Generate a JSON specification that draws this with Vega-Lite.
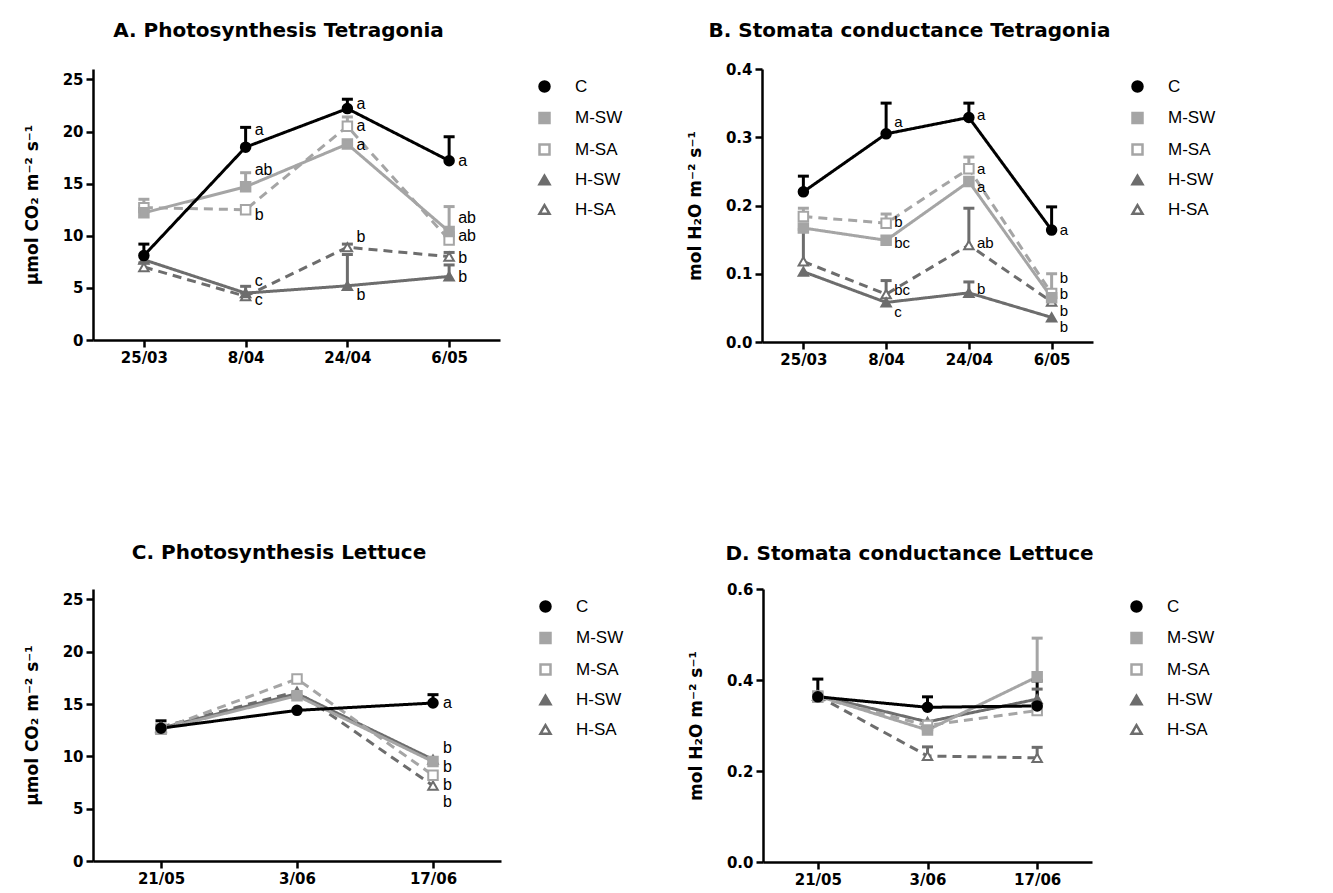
{
  "$schema": "https://vega.github.io/schema/vega-lite/v6.json",
  "padding": {"left": 23, "top": 21, "right": 5, "bottom": 5},
  "background": "white",
  "config": {
    "font": "Liberation Sans",
    "view": {"stroke": null},
    "axis": {"domainColor": "black", "domainWidth": 2.5, "tickColor": "black", "tickWidth": 2.5, "tickSize": 7, "labelFont": "DejaVu Sans", "labelFontWeight": "bold", "labelFontSize": 15, "labelColor": "black", "titleFont": "DejaVu Sans", "titleFontSize": 17, "titleFontWeight": "bold", "titleColor": "black", "grid": false},
    "axisX": {"title": null, "labelAngle": 0, "labelPadding": 3},
    "axisY": {"labelPadding": 3, "titlePadding": 21},
    "title": {"fontSize": 20, "fontWeight": "bold", "color": "black", "anchor": "middle", "offset": 27, "font": "DejaVu Sans", "dx": -18},
    "legend": {"labelFontSize": 17, "labelFont": "Liberation Sans", "labelColor": "black", "rowPadding": 10.5, "symbolStrokeWidth": 2.5, "symbolSize": 100, "labelOffset": 22, "offset": 27, "padding": 9},
    "text": {"font": "Liberation Sans", "fontSize": 16, "color": "black"}
  },
  "datasets": {
    "tA": [
      {"date": "25/03", "series": "H-SA", "mean": 7.0, "upper": 7.4},
      {"date": "8/04", "series": "H-SA", "mean": 4.2, "upper": 4.5},
      {"date": "24/04", "series": "H-SA", "mean": 8.9, "upper": 9.2},
      {"date": "6/05", "series": "H-SA", "mean": 8.0, "upper": 8.4},
      {"date": "25/03", "series": "H-SW", "mean": 7.7, "upper": null},
      {"date": "8/04", "series": "H-SW", "mean": 4.5, "upper": 5.15},
      {"date": "24/04", "series": "H-SW", "mean": 5.2, "upper": 8.2},
      {"date": "6/05", "series": "H-SW", "mean": 6.1, "upper": 7.2},
      {"date": "25/03", "series": "M-SA", "mean": 12.7, "upper": 13.5},
      {"date": "8/04", "series": "M-SA", "mean": 12.5, "upper": 12.8},
      {"date": "24/04", "series": "M-SA", "mean": 20.5, "upper": 21.4},
      {"date": "6/05", "series": "M-SA", "mean": 9.6, "upper": 10.3},
      {"date": "25/03", "series": "M-SW", "mean": 12.2, "upper": null},
      {"date": "8/04", "series": "M-SW", "mean": 14.7, "upper": 16.05},
      {"date": "24/04", "series": "M-SW", "mean": 18.8, "upper": null},
      {"date": "6/05", "series": "M-SW", "mean": 10.4, "upper": 12.8},
      {"date": "25/03", "series": "C", "mean": 8.1, "upper": 9.2},
      {"date": "8/04", "series": "C", "mean": 18.5, "upper": 20.4},
      {"date": "24/04", "series": "C", "mean": 22.2, "upper": 23.1},
      {"date": "6/05", "series": "C", "mean": 17.2, "upper": 19.5}
    ],
    "lA": [
      {"date": "8/04", "ly": 20.1, "lab": "a"},
      {"date": "24/04", "ly": 22.6, "lab": "a"},
      {"date": "24/04", "ly": 20.5, "lab": "a"},
      {"date": "24/04", "ly": 18.75, "lab": "a"},
      {"date": "8/04", "ly": 16.3, "lab": "ab"},
      {"date": "8/04", "ly": 12.0, "lab": "b"},
      {"date": "6/05", "ly": 17.2, "lab": "a"},
      {"date": "6/05", "ly": 11.7, "lab": "ab"},
      {"date": "6/05", "ly": 10.0, "lab": "ab"},
      {"date": "6/05", "ly": 7.85, "lab": "b"},
      {"date": "6/05", "ly": 6.0, "lab": "b"},
      {"date": "24/04", "ly": 9.85, "lab": "b"},
      {"date": "24/04", "ly": 4.3, "lab": "b"},
      {"date": "8/04", "ly": 5.7, "lab": "c"},
      {"date": "8/04", "ly": 3.85, "lab": "c"}
    ],
    "tB": [
      {"date": "25/03", "series": "H-SA", "mean": 0.118, "upper": 0.165},
      {"date": "8/04", "series": "H-SA", "mean": 0.070, "upper": 0.090},
      {"date": "24/04", "series": "H-SA", "mean": 0.142, "upper": 0.196},
      {"date": "6/05", "series": "H-SA", "mean": 0.059, "upper": 0.065},
      {"date": "25/03", "series": "H-SW", "mean": 0.103, "upper": null},
      {"date": "8/04", "series": "H-SW", "mean": 0.058, "upper": null},
      {"date": "24/04", "series": "H-SW", "mean": 0.072, "upper": 0.088},
      {"date": "6/05", "series": "H-SW", "mean": 0.036, "upper": null},
      {"date": "25/03", "series": "M-SA", "mean": 0.184, "upper": 0.196},
      {"date": "8/04", "series": "M-SA", "mean": 0.174, "upper": 0.1875},
      {"date": "24/04", "series": "M-SA", "mean": 0.254, "upper": 0.271},
      {"date": "6/05", "series": "M-SA", "mean": 0.071, "upper": 0.100},
      {"date": "25/03", "series": "M-SW", "mean": 0.167, "upper": null},
      {"date": "8/04", "series": "M-SW", "mean": 0.149, "upper": null},
      {"date": "24/04", "series": "M-SW", "mean": 0.235, "upper": null},
      {"date": "6/05", "series": "M-SW", "mean": 0.065, "upper": null},
      {"date": "25/03", "series": "C", "mean": 0.220, "upper": 0.243},
      {"date": "8/04", "series": "C", "mean": 0.305, "upper": 0.350},
      {"date": "24/04", "series": "C", "mean": 0.329, "upper": 0.350},
      {"date": "6/05", "series": "C", "mean": 0.164, "upper": 0.198}
    ],
    "lB": [
      {"date": "8/04", "ly": 0.323, "lab": "a"},
      {"date": "8/04", "ly": 0.176, "lab": "b"},
      {"date": "8/04", "ly": 0.1455, "lab": "bc"},
      {"date": "8/04", "ly": 0.076, "lab": "bc"},
      {"date": "8/04", "ly": 0.044, "lab": "c"},
      {"date": "24/04", "ly": 0.333, "lab": "a"},
      {"date": "24/04", "ly": 0.253, "lab": "a"},
      {"date": "24/04", "ly": 0.2276, "lab": "a"},
      {"date": "24/04", "ly": 0.1446, "lab": "ab"},
      {"date": "24/04", "ly": 0.077, "lab": "b"},
      {"date": "6/05", "ly": 0.164, "lab": "a"},
      {"date": "6/05", "ly": 0.0933, "lab": "b"},
      {"date": "6/05", "ly": 0.070, "lab": "b"},
      {"date": "6/05", "ly": 0.046, "lab": "b"},
      {"date": "6/05", "ly": 0.0225, "lab": "b"}
    ],
    "tC": [
      {"date": "21/05", "series": "H-SA", "mean": 12.8, "upper": null},
      {"date": "3/06", "series": "H-SA", "mean": 16.2, "upper": null},
      {"date": "17/06", "series": "H-SA", "mean": 7.2, "upper": null},
      {"date": "21/05", "series": "H-SW", "mean": 12.7, "upper": null},
      {"date": "3/06", "series": "H-SW", "mean": 16.0, "upper": null},
      {"date": "17/06", "series": "H-SW", "mean": 9.7, "upper": null},
      {"date": "21/05", "series": "M-SA", "mean": 12.6, "upper": null},
      {"date": "3/06", "series": "M-SA", "mean": 17.4, "upper": null},
      {"date": "17/06", "series": "M-SA", "mean": 8.2, "upper": null},
      {"date": "21/05", "series": "M-SW", "mean": 12.6, "upper": null},
      {"date": "3/06", "series": "M-SW", "mean": 15.8, "upper": null},
      {"date": "17/06", "series": "M-SW", "mean": 9.5, "upper": null},
      {"date": "21/05", "series": "C", "mean": 12.7, "upper": 13.4},
      {"date": "3/06", "series": "C", "mean": 14.4, "upper": null},
      {"date": "17/06", "series": "C", "mean": 15.1, "upper": 15.9}
    ],
    "lC": [
      {"date": "17/06", "ly": 15.1, "lab": "a"},
      {"date": "17/06", "ly": 10.8, "lab": "b"},
      {"date": "17/06", "ly": 9.0, "lab": "b"},
      {"date": "17/06", "ly": 7.3, "lab": "b"},
      {"date": "17/06", "ly": 5.6, "lab": "b"}
    ],
    "tD": [
      {"date": "21/05", "series": "H-SA", "mean": 0.365, "upper": null},
      {"date": "3/06", "series": "H-SA", "mean": 0.233, "upper": 0.253},
      {"date": "17/06", "series": "H-SA", "mean": 0.229, "upper": 0.252},
      {"date": "21/05", "series": "H-SW", "mean": 0.366, "upper": null},
      {"date": "3/06", "series": "H-SW", "mean": 0.308, "upper": null},
      {"date": "17/06", "series": "H-SW", "mean": 0.358, "upper": 0.38},
      {"date": "21/05", "series": "M-SA", "mean": 0.362, "upper": null},
      {"date": "3/06", "series": "M-SA", "mean": 0.300, "upper": null},
      {"date": "17/06", "series": "M-SA", "mean": 0.333, "upper": null},
      {"date": "21/05", "series": "M-SW", "mean": 0.365, "upper": null},
      {"date": "3/06", "series": "M-SW", "mean": 0.290, "upper": null},
      {"date": "17/06", "series": "M-SW", "mean": 0.407, "upper": 0.492},
      {"date": "21/05", "series": "C", "mean": 0.363, "upper": 0.402},
      {"date": "3/06", "series": "C", "mean": 0.340, "upper": 0.363},
      {"date": "17/06", "series": "C", "mean": 0.343, "upper": 0.398}
    ]
  },
  "vconcat": [
    {
      "hconcat": [
        {
          "title": {"text": "A. Photosynthesis Tetragonia", "offset": 28},
          "width": 407, "height": 271,
          "layer": [
            {"data": {"name": "tA"}, "mark": {"type": "line", "strokeWidth": 3},
             "encoding": {
               "x": {"field": "date", "type": "ordinal", "scale": {"type": "point", "padding": 0.5, "domain": ["25/03", "8/04", "24/04", "6/05"]}},
               "y": {"field": "mean", "type": "quantitative", "scale": {"domain": [0, 25]}, "axis": {"title": "μmol CO₂ m⁻² s⁻¹", "values": [0, 5, 10, 15, 20, 25]}},
               "color": {"field": "series", "type": "nominal", "scale": {"domain": ["H-SA", "H-SW", "M-SA", "M-SW", "C"], "range": ["#6d6d6d", "#6d6d6d", "#a5a5a5", "#a5a5a5", "#000000"]}, "legend": null},
               "strokeDash": {"field": "series", "type": "nominal", "scale": {"domain": ["H-SA", "H-SW", "M-SA", "M-SW", "C"], "range": [[9, 6], [1, 0], [9, 6], [1, 0], [1, 0]]}, "legend": null}
             }},
            {"data": {"name": "tA"}, "transform": [{"filter": "isValid(datum.upper)"}], "mark": {"type": "rule", "strokeWidth": 3},
             "encoding": {
               "x": {"field": "date", "type": "ordinal"},
               "y": {"field": "mean", "type": "quantitative"},
               "y2": {"field": "upper"},
               "color": {"field": "series", "type": "nominal", "legend": null}
             }},
            {"data": {"name": "tA"}, "transform": [{"filter": "isValid(datum.upper)"}], "mark": {"type": "tick", "thickness": 3, "size": 11, "opacity": 1},
             "encoding": {
               "x": {"field": "date", "type": "ordinal"},
               "y": {"field": "upper", "type": "quantitative"},
               "color": {"field": "series", "type": "nominal", "legend": null}
             }},
            {"data": {"name": "tA"}, "mark": {"type": "point", "filled": true, "opacity": 1, "size": 90, "strokeWidth": 2},
             "encoding": {
               "x": {"field": "date", "type": "ordinal"},
               "y": {"field": "mean", "type": "quantitative"},
               "shape": {"field": "series", "type": "nominal", "scale": {"domain": ["C", "M-SW", "M-SA", "H-SW", "H-SA"], "range": ["circle", "square", "square", "triangle-up", "triangle-up"]}, "legend": {"title": null}},
               "stroke": {"field": "series", "type": "nominal", "scale": {"domain": ["C", "M-SW", "M-SA", "H-SW", "H-SA"], "range": ["#000000", "#a5a5a5", "#a5a5a5", "#6d6d6d", "#6d6d6d"]}, "legend": {"title": null}},
               "fill": {"field": "series", "type": "nominal", "scale": {"domain": ["C", "M-SW", "M-SA", "H-SW", "H-SA"], "range": ["#000000", "#a5a5a5", "#ffffff", "#6d6d6d", "#ffffff"]}, "legend": {"title": null}}
             }},
            {"data": {"name": "lA"}, "mark": {"type": "text", "align": "left", "baseline": "middle", "dx": 9},
             "encoding": {
               "x": {"field": "date", "type": "ordinal"},
               "y": {"field": "ly", "type": "quantitative"},
               "text": {"field": "lab"}
             }}
          ]
        },
        {
          "title": {"text": "B. Stomata conductance Tetragonia", "offset": 21},
          "width": 331, "height": 273,
          "layer": [
            {"data": {"name": "tB"}, "mark": {"type": "line", "strokeWidth": 3},
             "encoding": {
               "x": {"field": "date", "type": "ordinal", "scale": {"type": "point", "padding": 0.5, "domain": ["25/03", "8/04", "24/04", "6/05"]}},
               "y": {"field": "mean", "type": "quantitative", "scale": {"domain": [0, 0.4]}, "axis": {"title": "mol H₂O m⁻² s⁻¹", "values": [0, 0.1, 0.2, 0.3, 0.4], "format": ".1f"}},
               "color": {"field": "series", "type": "nominal", "scale": {"domain": ["H-SA", "H-SW", "M-SA", "M-SW", "C"], "range": ["#6d6d6d", "#6d6d6d", "#a5a5a5", "#a5a5a5", "#000000"]}, "legend": null},
               "strokeDash": {"field": "series", "type": "nominal", "scale": {"domain": ["H-SA", "H-SW", "M-SA", "M-SW", "C"], "range": [[9, 6], [1, 0], [9, 6], [1, 0], [1, 0]]}, "legend": null}
             }},
            {"data": {"name": "tB"}, "transform": [{"filter": "isValid(datum.upper)"}], "mark": {"type": "rule", "strokeWidth": 3},
             "encoding": {
               "x": {"field": "date", "type": "ordinal"},
               "y": {"field": "mean", "type": "quantitative"},
               "y2": {"field": "upper"},
               "color": {"field": "series", "type": "nominal", "legend": null}
             }},
            {"data": {"name": "tB"}, "transform": [{"filter": "isValid(datum.upper)"}], "mark": {"type": "tick", "thickness": 3, "size": 11, "opacity": 1},
             "encoding": {
               "x": {"field": "date", "type": "ordinal"},
               "y": {"field": "upper", "type": "quantitative"},
               "color": {"field": "series", "type": "nominal", "legend": null}
             }},
            {"data": {"name": "tB"}, "mark": {"type": "point", "filled": true, "opacity": 1, "size": 90, "strokeWidth": 2},
             "encoding": {
               "x": {"field": "date", "type": "ordinal"},
               "y": {"field": "mean", "type": "quantitative"},
               "shape": {"field": "series", "type": "nominal", "scale": {"domain": ["C", "M-SW", "M-SA", "H-SW", "H-SA"], "range": ["circle", "square", "square", "triangle-up", "triangle-up"]}, "legend": {"title": null}},
               "stroke": {"field": "series", "type": "nominal", "scale": {"domain": ["C", "M-SW", "M-SA", "H-SW", "H-SA"], "range": ["#000000", "#a5a5a5", "#a5a5a5", "#6d6d6d", "#6d6d6d"]}, "legend": {"title": null}},
               "fill": {"field": "series", "type": "nominal", "scale": {"domain": ["C", "M-SW", "M-SA", "H-SW", "H-SA"], "range": ["#000000", "#a5a5a5", "#ffffff", "#6d6d6d", "#ffffff"]}, "legend": {"title": null}}
             }},
            {"data": {"name": "lB"}, "mark": {"type": "text", "align": "left", "baseline": "middle", "dx": 8, "fontSize": 15},
             "encoding": {
               "x": {"field": "date", "type": "ordinal"},
               "y": {"field": "ly", "type": "quantitative"},
               "text": {"field": "lab"}
             }}
          ]
        }
      ],
      "spacing": 54,
      "resolve": {"scale": {"color": "independent", "stroke": "independent", "fill": "independent", "shape": "independent", "strokeDash": "independent"}, "legend": {"stroke": "independent", "fill": "independent", "shape": "independent"}}
    },
    {
      "hconcat": [
        {
          "title": {"text": "C. Photosynthesis Lettuce", "offset": 26},
          "width": 408, "height": 272,
          "layer": [
            {"data": {"name": "tC"}, "mark": {"type": "line", "strokeWidth": 3},
             "encoding": {
               "x": {"field": "date", "type": "ordinal", "scale": {"type": "point", "padding": 0.5, "domain": ["21/05", "3/06", "17/06"]}},
               "y": {"field": "mean", "type": "quantitative", "scale": {"domain": [0, 25]}, "axis": {"title": "μmol CO₂ m⁻² s⁻¹", "values": [0, 5, 10, 15, 20, 25]}},
               "color": {"field": "series", "type": "nominal", "scale": {"domain": ["H-SA", "H-SW", "M-SA", "M-SW", "C"], "range": ["#6d6d6d", "#6d6d6d", "#a5a5a5", "#a5a5a5", "#000000"]}, "legend": null},
               "strokeDash": {"field": "series", "type": "nominal", "scale": {"domain": ["H-SA", "H-SW", "M-SA", "M-SW", "C"], "range": [[9, 6], [1, 0], [9, 6], [1, 0], [1, 0]]}, "legend": null}
             }},
            {"data": {"name": "tC"}, "transform": [{"filter": "isValid(datum.upper)"}], "mark": {"type": "rule", "strokeWidth": 3},
             "encoding": {
               "x": {"field": "date", "type": "ordinal"},
               "y": {"field": "mean", "type": "quantitative"},
               "y2": {"field": "upper"},
               "color": {"field": "series", "type": "nominal", "legend": null}
             }},
            {"data": {"name": "tC"}, "transform": [{"filter": "isValid(datum.upper)"}], "mark": {"type": "tick", "thickness": 3, "size": 11, "opacity": 1},
             "encoding": {
               "x": {"field": "date", "type": "ordinal"},
               "y": {"field": "upper", "type": "quantitative"},
               "color": {"field": "series", "type": "nominal", "legend": null}
             }},
            {"data": {"name": "tC"}, "mark": {"type": "point", "filled": true, "opacity": 1, "size": 90, "strokeWidth": 2},
             "encoding": {
               "x": {"field": "date", "type": "ordinal"},
               "y": {"field": "mean", "type": "quantitative"},
               "shape": {"field": "series", "type": "nominal", "scale": {"domain": ["C", "M-SW", "M-SA", "H-SW", "H-SA"], "range": ["circle", "square", "square", "triangle-up", "triangle-up"]}, "legend": {"title": null}},
               "stroke": {"field": "series", "type": "nominal", "scale": {"domain": ["C", "M-SW", "M-SA", "H-SW", "H-SA"], "range": ["#000000", "#a5a5a5", "#a5a5a5", "#6d6d6d", "#6d6d6d"]}, "legend": {"title": null}},
               "fill": {"field": "series", "type": "nominal", "scale": {"domain": ["C", "M-SW", "M-SA", "H-SW", "H-SA"], "range": ["#000000", "#a5a5a5", "#ffffff", "#6d6d6d", "#ffffff"]}, "legend": {"title": null}}
             }},
            {"data": {"name": "lC"}, "mark": {"type": "text", "align": "left", "baseline": "middle", "dx": 10},
             "encoding": {
               "x": {"field": "date", "type": "ordinal"},
               "y": {"field": "ly", "type": "quantitative"},
               "text": {"field": "lab"}
             }}
          ]
        },
        {
          "title": {"text": "D. Stomata conductance Lettuce", "offset": 18},
          "width": 329, "height": 273,
          "layer": [
            {"data": {"name": "tD"}, "mark": {"type": "line", "strokeWidth": 3},
             "encoding": {
               "x": {"field": "date", "type": "ordinal", "scale": {"type": "point", "padding": 0.5, "domain": ["21/05", "3/06", "17/06"]}},
               "y": {"field": "mean", "type": "quantitative", "scale": {"domain": [0, 0.6]}, "axis": {"title": "mol H₂O m⁻² s⁻¹", "values": [0, 0.2, 0.4, 0.6], "format": ".1f"}},
               "color": {"field": "series", "type": "nominal", "scale": {"domain": ["H-SA", "H-SW", "M-SA", "M-SW", "C"], "range": ["#6d6d6d", "#6d6d6d", "#a5a5a5", "#a5a5a5", "#000000"]}, "legend": null},
               "strokeDash": {"field": "series", "type": "nominal", "scale": {"domain": ["H-SA", "H-SW", "M-SA", "M-SW", "C"], "range": [[9, 6], [1, 0], [9, 6], [1, 0], [1, 0]]}, "legend": null}
             }},
            {"data": {"name": "tD"}, "transform": [{"filter": "isValid(datum.upper)"}], "mark": {"type": "rule", "strokeWidth": 3},
             "encoding": {
               "x": {"field": "date", "type": "ordinal"},
               "y": {"field": "mean", "type": "quantitative"},
               "y2": {"field": "upper"},
               "color": {"field": "series", "type": "nominal", "legend": null}
             }},
            {"data": {"name": "tD"}, "transform": [{"filter": "isValid(datum.upper)"}], "mark": {"type": "tick", "thickness": 3, "size": 11, "opacity": 1},
             "encoding": {
               "x": {"field": "date", "type": "ordinal"},
               "y": {"field": "upper", "type": "quantitative"},
               "color": {"field": "series", "type": "nominal", "legend": null}
             }},
            {"data": {"name": "tD"}, "mark": {"type": "point", "filled": true, "opacity": 1, "size": 90, "strokeWidth": 2},
             "encoding": {
               "x": {"field": "date", "type": "ordinal"},
               "y": {"field": "mean", "type": "quantitative"},
               "shape": {"field": "series", "type": "nominal", "scale": {"domain": ["C", "M-SW", "M-SA", "H-SW", "H-SA"], "range": ["circle", "square", "square", "triangle-up", "triangle-up"]}, "legend": {"title": null}},
               "stroke": {"field": "series", "type": "nominal", "scale": {"domain": ["C", "M-SW", "M-SA", "H-SW", "H-SA"], "range": ["#000000", "#a5a5a5", "#a5a5a5", "#6d6d6d", "#6d6d6d"]}, "legend": {"title": null}},
               "fill": {"field": "series", "type": "nominal", "scale": {"domain": ["C", "M-SW", "M-SA", "H-SW", "H-SA"], "range": ["#000000", "#a5a5a5", "#ffffff", "#6d6d6d", "#ffffff"]}, "legend": {"title": null}}
             }}
          ]
        }
      ],
      "spacing": 54,
      "resolve": {"scale": {"color": "independent", "stroke": "independent", "fill": "independent", "shape": "independent", "strokeDash": "independent"}, "legend": {"stroke": "independent", "fill": "independent", "shape": "independent"}}
    }
  ],
  "spacing": 176,
  "resolve": {"scale": {"color": "independent", "stroke": "independent", "fill": "independent", "shape": "independent", "strokeDash": "independent"}, "legend": {"stroke": "independent", "fill": "independent", "shape": "independent"}}
}
